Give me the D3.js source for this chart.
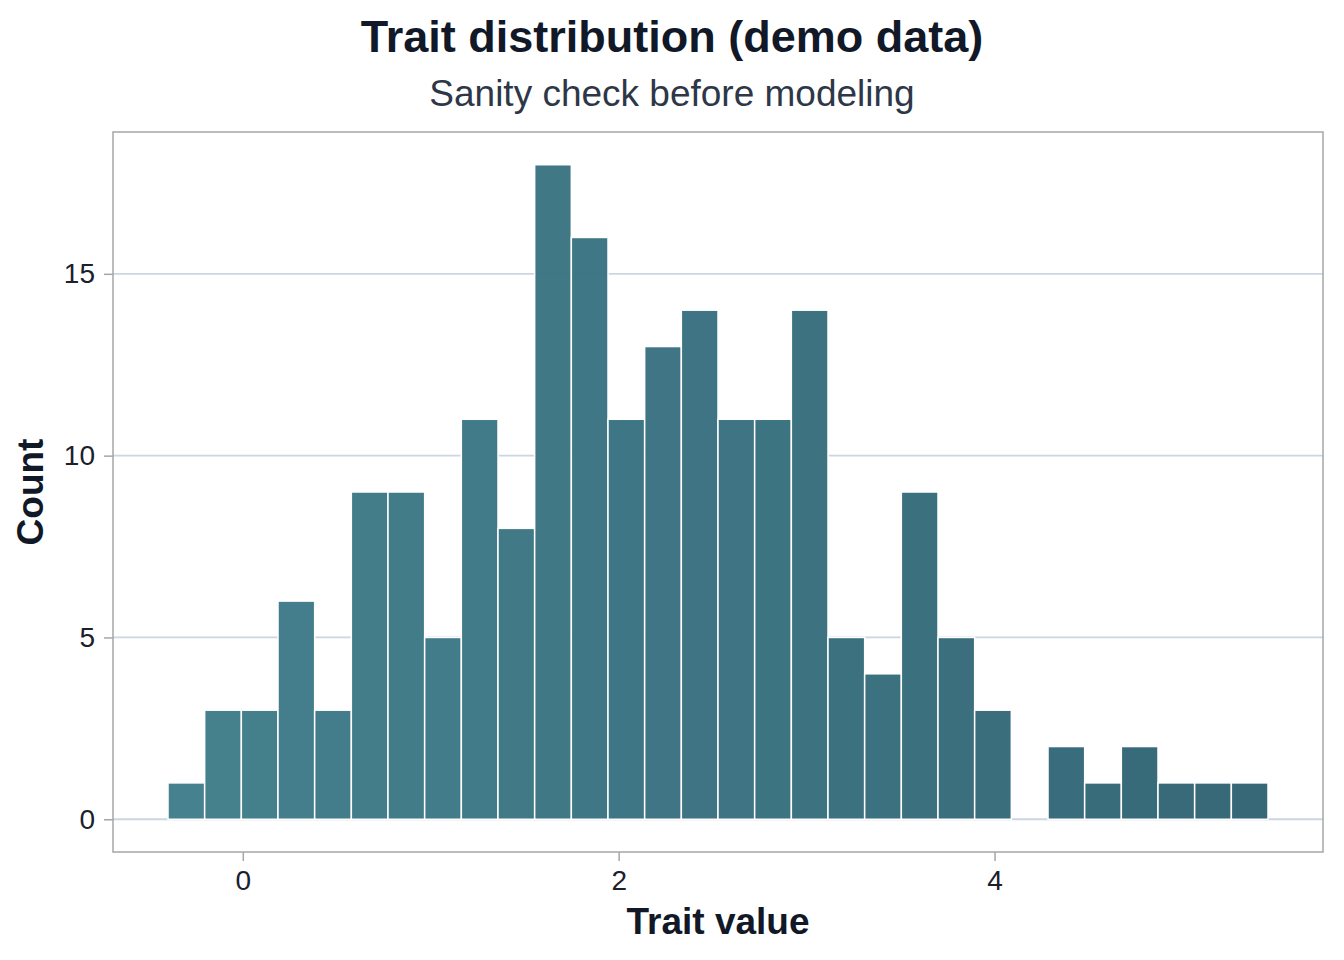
<!DOCTYPE html>
<html><head><meta charset="utf-8">
<script src="https://cdn.jsdelivr.net/npm/d3@7"></script>
<style>body{margin:0;background:#fff}</style>
</head><body>
<svg id="chart" width="1344" height="960"></svg>
<script>
const binStart = -0.398;
const binWidth = 0.1951;
const counts = [1,3,3,6,3,9,9,5,11,8,18,16,11,13,14,11,11,14,5,4,9,5,3,0,2,1,2,1,1,1];
const xTicks = [0,2,4];
const yTicks = [0,5,10,15];
const title = "Trait distribution (demo data)";
const subtitle = "Sanity check before modeling";
const xLabel = "Trait value";
const yLabel = "Count";

const bins = counts.map((c,i)=>({x0: binStart + i*binWidth, x1: binStart + (i+1)*binWidth, n: c}));
const svg = d3.select("#chart");
const font = "'Liberation Sans', Arial, Helvetica, sans-serif";
const P = {l:113, r:1323, t:132, b:852};

const xmin = bins[0].x0, xmax = bins[bins.length-1].x1;
const xpad = (xmax-xmin)*0.05;
const x = d3.scaleLinear().domain([xmin-xpad, xmax+xpad]).range([P.l, P.r]);
const ymax = d3.max(counts);
const y = d3.scaleLinear().domain([-ymax*0.05, ymax*1.05]).range([P.b, P.t]);
const color = d3.scaleLinear().domain([0, bins.length-1]).range(["#3f7d8a","#316374"]);

// gridlines
svg.append("g").selectAll("line").data(yTicks).join("line")
  .attr("x1",P.l).attr("x2",P.r).attr("y1",d=>y(d)).attr("y2",d=>y(d))
  .attr("stroke","#cbd6e3").attr("stroke-width",1.8);

// bars
svg.append("g").selectAll("rect").data(bins).join("rect")
  .attr("x",d=>x(d.x0)).attr("width",d=>x(d.x1)-x(d.x0))
  .attr("y",d=>y(d.n)).attr("height",d=>y(0)-y(d.n))
  .attr("fill",(d,i)=>color(i)).attr("fill-opacity",0.97)
  .attr("stroke","#ffffff").attr("stroke-width",1.5);

// panel border
svg.append("rect").attr("x",P.l).attr("y",P.t).attr("width",P.r-P.l).attr("height",P.b-P.t)
  .attr("fill","none").attr("stroke","#a6a6a6").attr("stroke-width",1.5);

// axes
const xAxis = svg.append("g").attr("transform",`translate(0,${P.b})`)
  .call(d3.axisBottom(x).tickValues(xTicks).tickSize(9).tickPadding(9).tickFormat(d3.format("d")));
const yAxis = svg.append("g").attr("transform",`translate(${P.l},0)`)
  .call(d3.axisLeft(y).tickValues(yTicks).tickSize(9).tickPadding(9).tickFormat(d3.format("d")));
[xAxis,yAxis].forEach(a=>{
  a.select(".domain").remove();
  a.selectAll(".tick line").attr("stroke","#a6a6a6").attr("stroke-width",1.5);
  a.selectAll(".tick text").attr("fill","#1a202c").style("font-family",font).style("font-size","28px");
});

// titles
svg.append("text").attr("x",672).attr("y",52).attr("text-anchor","middle")
  .style("font-family",font).style("font-size","45px").style("font-weight","bold")
  .attr("fill","#111827").text(title);
svg.append("text").attr("x",672).attr("y",106).attr("text-anchor","middle")
  .style("font-family",font).style("font-size","37px")
  .attr("fill","#2d3748").text(subtitle);
svg.append("text").attr("x",(P.l+P.r)/2).attr("y",934).attr("text-anchor","middle")
  .style("font-family",font).style("font-size","37px").style("font-weight","bold")
  .attr("fill","#111827").text(xLabel);
svg.append("text").attr("transform",`translate(43,${(P.t+P.b)/2}) rotate(-90)`).attr("text-anchor","middle")
  .style("font-family",font).style("font-size","37px").style("font-weight","bold")
  .attr("fill","#111827").text(yLabel);
</script>
</body></html>
